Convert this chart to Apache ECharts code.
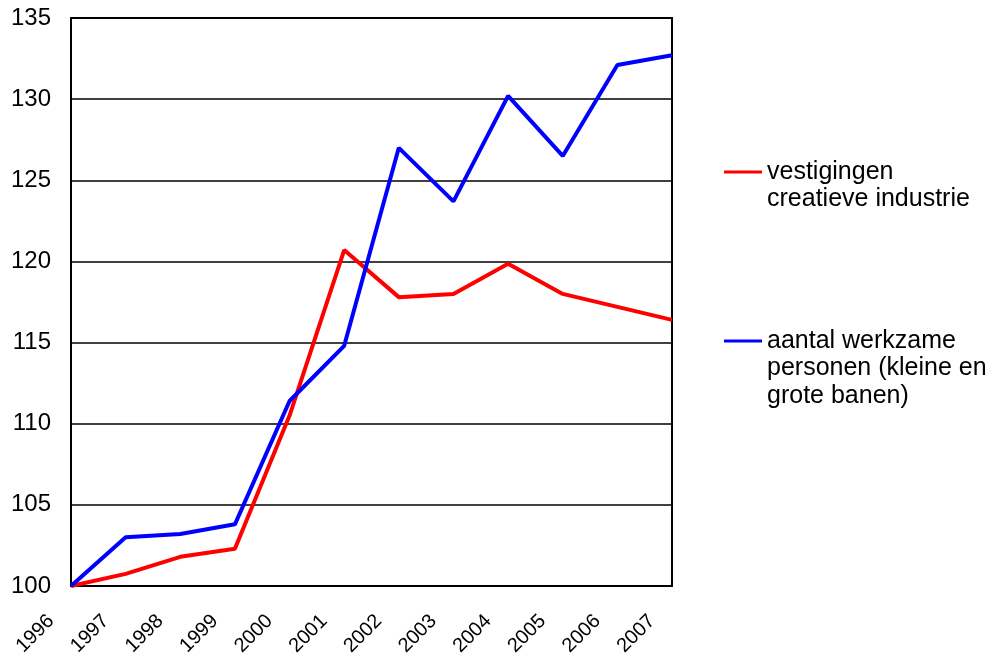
<!DOCTYPE html>
<html>
<head>
<meta charset="utf-8">
<script src="https://cdn.jsdelivr.net/npm/echarts@6/dist/echarts.min.js"></script>
<style>html,body{margin:0;padding:0;background:#fff}#c{width:986px;height:656px}</style>
</head>
<body>
<div id="c"></div>
<script>
var years = ['1996','1997','1998','1999','2000','2001','2002','2003','2004','2005','2006','2007'];
var vestigingen = [100, 100.75, 101.8, 102.3, 110.5, 120.7, 117.8, 118.0, 119.85, 118.0, 117.2, 116.4];
var werkzame = [100, 103.0, 103.2, 103.8, 111.4, 114.8, 127.0, 123.7, 130.2, 126.5, 132.1, 132.7];
var seriesNames = ['vestigingen\ncreatieve industrie', 'aantal werkzame\npersonen (kleine en\ngrote banen)'];
var yTicks = { min: 100, max: 135, interval: 5 };

var font = 'Liberation Sans, Arial, sans-serif';
var chart = echarts.init(document.getElementById('c'), null, { renderer: 'canvas' });
function legendFor(name, color, iconY) {
  var lh = 27.5;
  var lines = name.split('\n').length;
  var total = 2 * lines - 1;
  var h = total * lh;
  var pre = new Array(lines).join('\n');
  return {
    show: true,
    data: [{ name: name, icon: 'rect', itemStyle: { color: color } }],
    formatter: function (n) { return pre + n; },
    left: 724,
    top: iconY - h / 2,
    orient: 'vertical',
    padding: 0,
    itemWidth: 38,
    itemHeight: 3,
    itemGap: 0,
    selectedMode: false,
    textStyle: { fontFamily: font, fontSize: 25, color: '#000', lineHeight: lh }
  };
}
var labelShift = 20;
chart.setOption({
  animation: false,
  backgroundColor: '#fff',
  grid: [
    { left: 71, right: 314, top: 18, bottom: 70, outerBoundsMode: 'none', containLabel: false, show: true, borderColor: '#000', borderWidth: 2, backgroundColor: 'transparent' },
    { left: 71 - labelShift, right: 314 + labelShift, top: 18, bottom: 70, outerBoundsMode: 'none', containLabel: false, show: false }
  ],
  legend: [
    legendFor(seriesNames[0], '#ff0000', 172),
    legendFor(seriesNames[1], '#0000ff', 341)
  ],
  xAxis: [
    {
      type: 'category', gridIndex: 0,
      data: years,
      boundaryGap: false,
      axisLine: { lineStyle: { color: '#000', width: 2 } },
      axisTick: { show: false },
      axisLabel: { show: false },
      splitLine: { show: false }
    },
    {
      type: 'category', gridIndex: 1,
      data: years,
      boundaryGap: false,
      axisLine: { show: false },
      axisTick: { show: false },
      axisLabel: { rotate: 45, margin: 32, interval: 0, fontFamily: font, fontSize: 20, color: '#000' },
      splitLine: { show: false }
    }
  ],
  yAxis: [
    {
      type: 'value', gridIndex: 0,
      min: yTicks.min, max: yTicks.max, interval: yTicks.interval,
      axisLine: { show: true, lineStyle: { color: '#000', width: 2 } },
      axisTick: { show: false },
      axisLabel: { margin: 20, fontFamily: font, fontSize: 24, color: '#000' },
      splitLine: { show: true, lineStyle: { color: '#000', width: 1.5 } }
    },
    {
      type: 'value', gridIndex: 1, show: false,
      min: yTicks.min, max: yTicks.max, interval: yTicks.interval,
      splitLine: { show: false }
    }
  ],
  series: [
    { name: seriesNames[0], type: 'line', xAxisIndex: 0, yAxisIndex: 0, data: vestigingen, symbol: 'none', lineStyle: { color: '#ff0000', width: 4 }, itemStyle: { color: '#ff0000' }, z: 3 },
    { name: seriesNames[1], type: 'line', xAxisIndex: 0, yAxisIndex: 0, data: werkzame, symbol: 'none', lineStyle: { color: '#0000ff', width: 4 }, itemStyle: { color: '#0000ff' }, z: 4 }
  ]
});
</script>
</body>
</html>
